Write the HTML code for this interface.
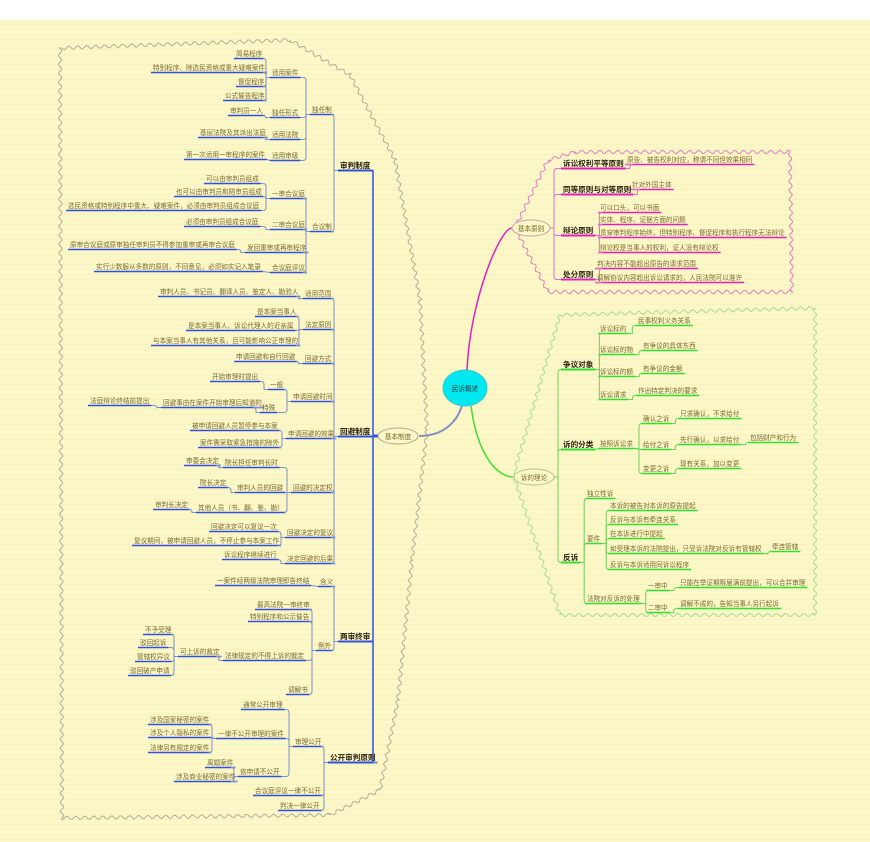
<!DOCTYPE html>
<html><head><meta charset="utf-8">
<style>
html,body{margin:0;padding:0;}
body{width:870px;height:842px;overflow:hidden;background:#fff;font-family:"Liberation Sans","Noto Sans CJK SC",sans-serif;}
#bg{position:absolute;left:0;top:20px;width:870px;height:822px;
background-color:#fcf7c6;
background-image:repeating-linear-gradient(to bottom,rgba(0,0,0,0) 0,rgba(0,0,0,0) 4px,rgba(200,190,120,0.09) 4px,rgba(200,190,120,0.09) 5px);}
svg{position:absolute;left:0;top:0;}
text{font-family:"Liberation Sans","Noto Sans CJK SC",sans-serif;font-size:6.6px;fill:#7a6a30;}
text.b{font-size:7.6px;font-weight:bold;fill:#2a2410;}
</style></head><body>
<div id="bg"></div>
<svg id="s" width="870" height="842" xmlns="http://www.w3.org/2000/svg">
<g id="borders"></g>
<g id="lines"></g>
<path d="M419,436 C445,436 458,420 462,405" stroke="#8090c0" stroke-width="2" fill="none"/>
<path d="M467,370 C470,300 500,228 512,228" stroke="#e020c0" stroke-width="1.5" fill="none"/>
<path d="M471,406 C478,460 500,477 513,477" stroke="#40e030" stroke-width="1.5" fill="none"/>
<ellipse cx="465" cy="388" rx="22" ry="18" fill="#00e8f0" stroke="#30c8d0"/>
<text x="465" y="391" text-anchor="middle" style="fill:#333">民诉概述</text>
<ellipse cx="398" cy="436" rx="20" ry="8" fill="#fcf7c6" stroke="#b0a890"/>
<text x="398" y="439" text-anchor="middle">基本制度</text>
<ellipse cx="531" cy="228" rx="19" ry="8" fill="#fcf7c6" stroke="#c8a0b0"/>
<text x="531" y="231" text-anchor="middle">基本原则</text>
<ellipse cx="534" cy="477" rx="20" ry="8" fill="#fcf7c6" stroke="#b0c890"/>
<text x="534" y="480" text-anchor="middle">诉的理论</text>
<g id="texts"></g>
</svg>
<script>
const NS="http://www.w3.org/2000/svg";
const T=document.getElementById('texts'),L=document.getElementById('lines'),B=document.getElementById('borders');
function el(tag,attrs,parent){const e=document.createElementNS(NS,tag);for(const k in attrs)e.setAttribute(k,attrs[k]);parent.appendChild(e);return e;}
const left=[
['sp','ROOT','审判制度',340,168,1],
['dr','sp','独任制',312,112],
['hy','sp','合议制',312,229],
['a1','dr','适用案件',272,75],
['a2','dr','独任形式',272,115],
['a3','dr','适用法院',272,137],
['a4','dr','适用审级',272,158],
['a11','a1','简易程序',236,56],
['a12','a1','特别程序、除选民资格或重大疑难案件',153,70],
['a13','a1','督促程序',238,84],
['a14','a1','公式催告程序',225,98],
['a21','a2','审判员一人',230,113],
['a31','a3','基层法院及其派出法庭',200,135],
['a41','a4','第一次适用一审程序的案件',186,157],
['h1','hy','一审合议庭',272,196],
['h2','hy','二审合议庭',272,227],
['h3','hy','发回重审或再审程序',247,250],
['h4','hy','合议庭评议',272,270],
['h11','h1','可以由审判员组成',206,181],
['h12','h1','也可以由审判员和陪审员组成',176,194],
['h13','h1','选民资格或特别程序中重大、疑难案件，必须由审判员组成合议庭',68,208],
['h21','h2','必须由审判员组成合议庭',186,224],
['h31','h3','原审合议庭或原审独任审判员不得参加重审或再审合议庭',70,247],
['h41','h4','实行少数服从多数的原则，不同意见，必须如实记入笔录',96,269],
['hb','ROOT','回避制度',340,434,1],
['r1','hb','适用范围',305,296],
['r2','hb','法定原因',305,327],
['r3','hb','回避方式',305,361],
['r4','hb','申请回避时间',293,399],
['r5','hb','申请回避的效果',288,436],
['r6','hb','回避的决定权',293,490],
['r7','hb','回避决定的复议',287,535],
['r8','hb','决定回避的后果',287,561],
['r11','r1','审判人员、书记员、翻译人员、鉴定人、勘验人',160,294],
['r21','r2','是本案当事人',257,314],
['r22','r2','是本案当事人、诉讼代理人的近亲属',188,328],
['r23','r2','与本案当事人有其他关系，且可能影响公正审理的',153,343],
['r31','r3','申请回避和自行回避',236,359],
['r41','r4','一般',270,387],
['r42','r4','特殊',262,410],
['r411','r41','开始审理时提出',212,379],
['r421','r42','回避事由在案件开始审理后知道的',163,405],
['r4211','r421','法庭辩论终结前提出',90,403],
['r51','r5','被申请回避人员暂停参与本案',192,428],
['r52','r5','案件需采取紧急措施的除外',200,445],
['r61','r6','院长担任审判长时',225,465],
['r62','r6','审判人员的回避',237,490],
['r63','r6','其他人员（书、翻、鉴、勘）',198,510],
['r611','r61','审委会决定',186,463],
['r621','r62','院长决定',200,485],
['r631','r63','审判长决定',155,507],
['r71','r7','回避决定可以复议一次',211,529],
['r72','r7','复议期间，被申请回避人员，不停止参与本案工作',134,543],
['r81','r8','诉讼程序继续进行',224,557],
['ls','ROOT','两审终审',340,639,1],
['l1','ls','含义',320,584],
['l2','ls','例外',318,648],
['l3','l2','调解书',288,692],
['l11','l1','一案件经两级法院审理即告终结',217,583],
['l21','l2','最高法院一审终审',257,607],
['l22','l2','特别程序和公示催告',250,619],
['l23','l2','法律规定的不得上诉的裁定',225,658],
['l231','l23','可上诉的裁定',180,654],
['l2311','l231','不予受理',145,632],
['l2312','l231','驳回起诉',140,645],
['l2313','l231','管辖权异议',137,659],
['l2314','l231','驳回破产申请',130,673],
['gk','ROOT','公开审判原则',330,760,1],
['g1','gk','审理公开',295,744],
['g2','gk','合议庭评议一律不公开',255,793],
['g3','gk','判决一律公开',280,808],
['g11','g1','通常公开审理',243,707],
['g12','g1','一律不公开审理的案件',218,736],
['g13','g1','依申请不公开',240,774],
['g121','g12','涉及国家秘密的案件',150,722],
['g122','g12','涉及个人隐私的案件',150,735],
['g123','g12','法律另有规定的案件',150,750],
['g131','g13','离婚案件',207,765],
['g132','g13','涉及商业秘密的案件',176,779],
];
const pinkN=[
['p1','R','诉讼权利平等原则',563,166,1],
['p2','R','同等原则与对等原则',563,192,1],
['p3','R','辩论原则',563,233,1],
['p4','R','处分原则',563,277,1],
['p11','p1','原告、被告权利对应，称谓不同但效果相同',627,162],
['p21','p2','针对外国主体',632,187],
['p31','p3','可以口头，可以书面',600,210],
['p32','p3','实体、程序、证据方面的问题',600,222],
['p33','p3','贯穿审判程序始终，但特别程序、督促程序和执行程序无法辩论',600,235],
['p34','p3','辩论权是当事人的权利，证人没有辩论权',600,250],
['p41','p4','判决内容不能超出原告的请求范围',597,266],
['p42','p4','调解协议内容超出诉讼请求的，人民法院可以准许',597,280],
];
const greenN=[
['q1','G','争议对象',563,367,1],
['q2','G','诉的分类',563,447,1],
['q3','G','反诉',563,560,1],
['q11','q1','诉讼标的',600,331],
['q12','q1','诉讼标的物',600,352],
['q13','q1','诉讼标的额',600,374],
['q14','q1','诉讼请求',600,397],
['q111','q11','民事权利义务关系',638,323],
['q121','q12','有争议的具体东西',643,348],
['q131','q13','有争议的金额',643,371],
['q141','q14','作出特定判决的要求',638,393],
['q21','q2','按照诉讼求',600,446],
['q211','q21','确认之诉',643,421],
['q212','q21','给付之诉',643,447],
['q213','q21','变更之诉',643,471],
['q2111','q211','只求确认，不求给付',680,416],
['q2121','q212','先行确认，以求给付',680,442],
['q21211','q2121','包括财产和行为',750,440],
['q2131','q213','现有关系，加以变更',680,466],
['q31','q3','独立性诉',587,496],
['q32','q3','要件',587,541],
['q33','q3','法院对反诉的处理',587,601],
['q321','q32','本诉的被告对本诉的原告提起',610,508],
['q322','q32','反诉与本诉有牵连关系',610,522],
['q323','q32','在本诉进行中提起',610,536],
['q324','q32','如受理本诉的法院提出，只受诉法院对反诉有管辖权',610,551],
['q325','q32','反诉与本诉适用同诉讼程序',610,567],
['q3241','q324','牵连管辖',772,549],
['q331','q33','一审中',648,588],
['q332','q33','二审中',648,610],
['q3311','q331','只能在举证期限届满前提出，可以合并审理',680,585],
['q3321','q332','调解不成的，告知当事人另行起诉',680,606],
];
const nodes={};
function place(arr,side,ul,ln){
 arr.forEach(n=>{
  const t=el('text',{x:n[3],y:n[4]},T);t.textContent=n[2];if(n[5])t.setAttribute('class','b');
  const w=t.getComputedTextLength();
  nodes[n[0]]={p:n[1],x:n[3],y:n[4],w:w,side:side,b:n[5]};
  const uy=n[4]+2.5;
  el('line',{x1:n[3]-2,y1:uy,x2:n[3]+w+2,y2:uy,stroke:ul,'stroke-width':n[5]?2:1.6},L);
 });
 arr.forEach(n=>{
  const c=nodes[n[0]],uy=c.y+2.5;
  if(side==='L'){
   let px,py;
   if(c.p==='ROOT'){px=373;py=436;}else{const p=nodes[c.p];px=p.x-2;py=p.y+2.5;}
   const bx=px-4, cx=c.x+c.w+2;
   const d=Math.abs(py-uy)<2?`M${cx},${uy} L${px},${py}`:`M${cx},${uy} L${bx-3},${uy} Q${bx},${uy} ${bx},${uy+(py>uy?3:-3)} L${bx},${py} L${px},${py}`;
   if(c.p==='ROOT'){el('path',{d:`M${cx},${uy} L${px},${uy}`,stroke:ln,'stroke-width':1.5,fill:'none'},L);}
   else el('path',{d:d,stroke:ln,'stroke-width':1,fill:'none'},L);
  } else {
   let px,py;
   if(c.p==='R'){px=550;py=228;}else if(c.p==='G'){px=554;py=477;}else{const p=nodes[c.p];px=p.x+p.w+2;py=p.y+2.5;}
   const bx=px+4, cx=c.x-2;
   const d=Math.abs(py-uy)<2?`M${px},${py} L${cx},${uy}`:`M${px},${py} L${bx},${py} L${bx},${uy+(py>uy?3:-3)} Q${bx},${uy} ${bx+3},${uy} L${cx},${uy}`;
   el('path',{d:d,stroke:ln,'stroke-width':1,fill:'none'},L);
  }
 });
}
place(left,'L','#3050e0','#7d92c8');
el('line',{x1:373,y1:170,x2:373,y2:762,stroke:'#3050e0','stroke-width':1.5},L);
el('line',{x1:373,y1:436,x2:380,y2:436,stroke:'#3050e0','stroke-width':3},L);
place(pinkN,'R','#e020c0','#e070d0');
place(greenN,'R','#30e030','#70d060');
function wavy(pts,color){
 let d='';const amp=1.8,wl=9;
 for(let i=0;i<pts.length-1;i++){
  const [x1,y1]=pts[i],[x2,y2]=pts[i+1];const len=Math.hypot(x2-x1,y2-y1);const n=Math.max(1,Math.round(len/2));
  const nx=-(y2-y1)/len,ny=(x2-x1)/len;
  for(let k=0;k<=n;k++){const t=k/n;const s=Math.sin((t*len)/wl*2*Math.PI)*amp;
   const x=x1+(x2-x1)*t+nx*s,y=y1+(y2-y1)*t+ny*s;d+=(d?'L':'M')+x.toFixed(1)+','+y.toFixed(1);}
 }
 el('path',{d:d+'Z',stroke:color,'stroke-width':1,fill:'none'},B);
}
wavy([[62,48],[290,40],[350,75],[395,160],[420,300],[427,430],[412,560],[398,700],[380,790],[330,815],[62,818],[60,48]],'#b0b098');
wavy([[548,160],[575,152],[790,152],[792,292],[548,292],[515,228],[548,160]],'#e080c0');
wavy([[515,470],[560,315],[815,308],[815,615],[560,615],[515,480]],'#a8dc98');
</script>
</body></html>
